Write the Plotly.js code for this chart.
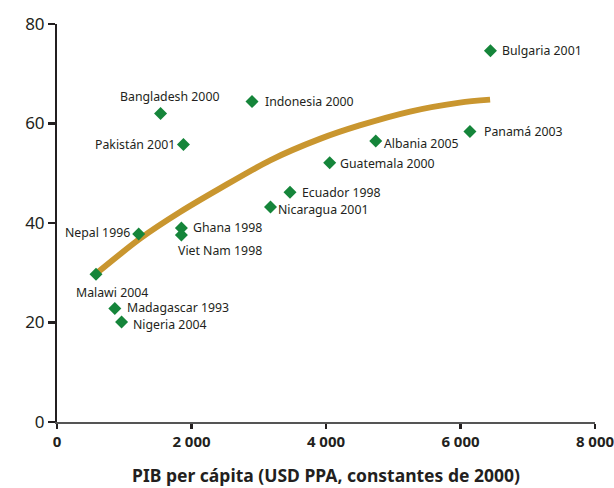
<!DOCTYPE html>
<html><head><meta charset="utf-8">
<script src="https://cdn.plot.ly/plotly-3.0.1.min.js"></script>
<style>html,body{margin:0;padding:0;background:#fff}#chart{width:614px;height:488px}</style>
</head><body><div id="chart"></div>
<script>
// Data
const countries = ["Bangladesh 2000","Indonesia 2000","Pakistán 2001","Ecuador 1998","Nicaragua 2001","Ghana 1998","Viet Nam 1998","Nepal 1996","Bulgaria 2001","Panamá 2003","Albania 2005","Guatemala 2000","Malawi 2004","Madagascar 1993","Nigeria 2004"];
const gdp = [1540, 2900, 1880, 3465, 3175, 1850, 1850, 1215, 6445, 6140, 4740, 4055, 580, 860, 960];
const value = [62.0, 64.4, 55.8, 46.2, 43.2, 39.0, 37.6, 37.8, 74.6, 58.4, 56.5, 52.1, 29.7, 22.8, 20.1];
const trendX = [580, 1240, 1830, 2430, 3170, 3910, 4500, 5250, 5990, 6440];
const trendY = [29.8, 36.9, 42.2, 47.0, 52.6, 56.9, 59.6, 62.4, 64.2, 64.8];
const xTicks = [0, 2000, 4000, 6000, 8000];
const yTicks = [0, 20, 40, 60, 80];

// label placement (style): [xanchor, yanchor, xshift, yshift]
const place = {
  "Bangladesh 2000": ["center","bottom",9,7],
  "Indonesia 2000": ["left","middle",11,0],
  "Pakistán 2001": ["right","middle",-6,0],
  "Ecuador 1998": ["left","middle",10,0],
  "Nicaragua 2001": ["left","middle",5,-2],
  "Ghana 1998": ["left","middle",10,0],
  "Viet Nam 1998": ["left","top",-5,-5],
  "Nepal 1996": ["right","middle",-7,1],
  "Bulgaria 2001": ["left","middle",10,0],
  "Panamá 2003": ["left","middle",12,0],
  "Albania 2005": ["left","middle",6,-3],
  "Guatemala 2000": ["left","middle",8,-1],
  "Malawi 2004": ["center","top",16,-8],
  "Madagascar 1993": ["left","middle",10,1],
  "Nigeria 2004": ["left","middle",9,-2]
};

const textColor = "#231f20";
const font = "'Noto Sans', 'Open Sans', sans-serif";

const annotations = countries.map((c, i) => {
  const p = place[c];
  return {x: gdp[i], y: value[i], xref: "x", yref: "y", text: c, showarrow: false,
    xanchor: p[0], yanchor: p[1], xshift: p[2], yshift: p[3],
    font: {family: font, size: 12.3, color: textColor}};
});

const traces = [
  {x: trendX, y: trendY, mode: "lines", type: "scatter",
   line: {color: "#c9962f", width: 6, shape: "spline", smoothing: 0.8}, hoverinfo: "skip"},
  {x: gdp, y: value, mode: "markers", type: "scatter",
   marker: {symbol: "diamond", size: 10, color: "#15853a"}}
];

const layout = {
  width: 614, height: 488,
  margin: {l: 56.5, r: 18.5, t: 24, b: 65.7},
  paper_bgcolor: "#fff", plot_bgcolor: "#fff",
  showlegend: false,
  separators: ", ",
  font: {family: font, color: textColor},
  xaxis: {range: [0, 8000], tickvals: xTicks, tickformat: ",d", showgrid: false, zeroline: false,
    showline: true, linecolor: "#555", linewidth: 1.5, ticks: "outside", ticklen: 5, tickwidth: 2.5,
    ticklabeloverflow: "allow",
    tickcolor: "#231f20", tickfont: {family: font, size: 15, color: textColor, weight: "bold"},
    title: {text: "<b>PIB per cápita (USD PPA, constantes de 2000)</b>", font: {family: font, size: 17.5, color: textColor}, standoff: 20}},
  yaxis: {range: [0, 80], tickvals: yTicks, showgrid: false, zeroline: false,
    showline: true, linecolor: "#231f20", linewidth: 2, ticks: "outside", ticklen: 7, tickwidth: 2.5,
    tickcolor: "#231f20", tickfont: {family: font, size: 17, color: textColor}},
  annotations: annotations
};

Plotly.newPlot("chart", traces, layout, {displayModeBar: false, staticPlot: true});
</script></body></html>
